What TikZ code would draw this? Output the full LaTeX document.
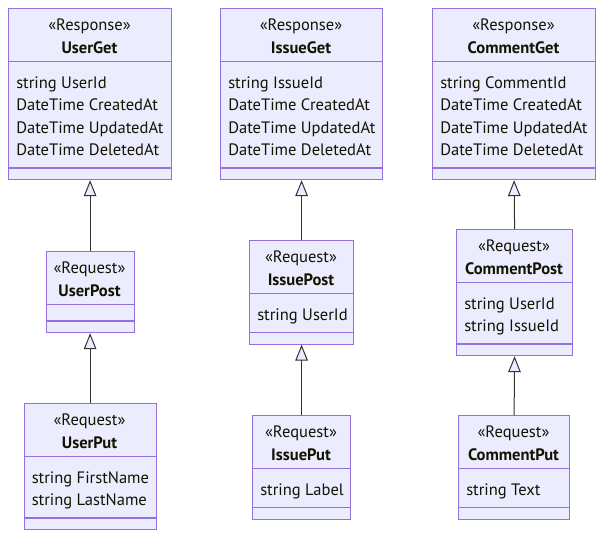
\documentclass[tikz,border=0pt]{standalone}
\usepackage{fontspec}
\setmainfont{PT Sans}
\usetikzlibrary{arrows.meta,positioning}

\definecolor{classfill}{HTML}{ECECFF}
\definecolor{classborder}{HTML}{9370DB}
\definecolor{classtext}{HTML}{131300}
\definecolor{edgecolor}{HTML}{333333}

\tikzset{
  classbox/.style={draw=classborder, fill=classfill, line width=0.9pt, inner sep=0pt},
  classline/.style={draw=classborder, line width=0.9pt},
  classlabel/.style={text=classtext, font=\fontsize{12.4}{14}\selectfont, inner sep=0pt, anchor=mid},
  classtitle/.style={classlabel, font=\fontsize{12.4}{14}\selectfont\bfseries},
  attr/.style={classlabel, anchor=mid west},
  inherit/.style={draw=edgecolor, line width=0.75pt, -{Triangle[open, length=12pt, width=9.5pt, fill=classfill]}}
}

% #1 name, #2 left, #3 top, #4 right, #5 number of attributes,
% #6 stereotype, #7 title, #8 attributes
\newcommand{\umlclass}[8]{%
  \pgfmathsetmacro{\divA}{#3+53.5}
  \pgfmathsetmacro{\divB}{\divA+16.5+22.5*#5}
  \pgfmathsetmacro{\clsbottom}{\divB+11}
  \pgfmathsetmacro{\midx}{(#2+#4)/2}
  \node[classbox, anchor=north west, minimum width={(#4-#2)*0.75pt},
        minimum height={(\clsbottom-#3)*0.75pt}] (#1) at (#2,#3) {};
  \draw[classline] (#2,\divA) -- (#4,\divA);
  \draw[classline] (#2,\divB) -- (#4,\divB);
  \node[classlabel] (#1-stereo) at (\midx,#3+19.5) {«#6»};
  \node[classtitle] (#1-title) at (\midx,#3+42.5) {#7};
  \ifnum#5>0
    \foreach \a [count=\i] in {#8} {
      \node[attr] (#1-attr\i) at (#2+8,{\divA+23.5+22.5*(\i-1)}) {\a};
    }
  \fi
}

\begin{document}
\begin{tikzpicture}[x=0.75pt,y=-0.75pt]
    \useasboundingbox (0,0) rectangle (611,543);

    % responses
    \umlclass{userget}{8}{8}{171}{4}{Response}{UserGet}{string UserId,DateTime CreatedAt,DateTime UpdatedAt,DateTime DeletedAt}
    \umlclass{issueget}{220}{8}{382}{4}{Response}{IssueGet}{string IssueId,DateTime CreatedAt,DateTime UpdatedAt,DateTime DeletedAt}
    \umlclass{commentget}{432}{8}{595}{4}{Response}{CommentGet}{string CommentId,DateTime CreatedAt,DateTime UpdatedAt,DateTime DeletedAt}

    % post requests
    \umlclass{userpost}{45.5}{251}{133.5}{0}{Request}{UserPost}{}
    \umlclass{issuepost}{249}{240}{353}{1}{Request}{IssuePost}{string UserId}
    \umlclass{commentpost}{456}{229}{572}{2}{Request}{CommentPost}{string UserId,string IssueId}

    % put requests
    \umlclass{userput}{23.5}{403}{155.5}{2}{Request}{UserPut}{string FirstName,string LastName}
    \umlclass{issueput}{252}{415}{350}{1}{Request}{IssuePut}{string Label}
    \umlclass{commentput}{458}{415}{569}{1}{Request}{CommentPut}{string Text}

    % inheritance
    \draw[inherit] (userpost.north) -- (userget.south);
    \draw[inherit] (issuepost.north) -- (issueget.south);
    \draw[inherit] (commentpost.north) -- (commentget.south);
    \draw[inherit] (userput.north) -- (userpost.south);
    \draw[inherit] (issueput.north) -- (issuepost.south);
    \draw[inherit] (commentput.north) -- (commentpost.south);
\end{tikzpicture}
\end{document}
